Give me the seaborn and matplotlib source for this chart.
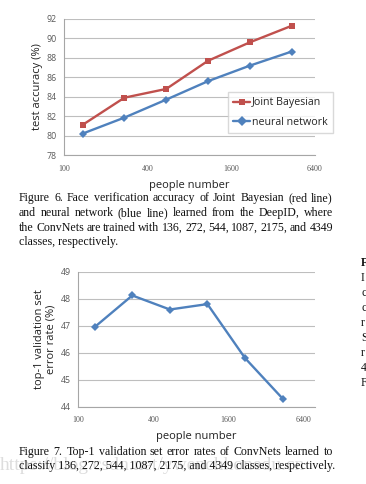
import matplotlib
matplotlib.use("Agg")
import matplotlib.pyplot as plt
import matplotlib.ticker as mticker
import seaborn as sns
import pandas as pd

people = [136, 272, 544, 1087, 2175, 4349]
joint_bayesian = [81.1, 83.9, 84.8, 87.7, 89.6, 91.3]
neural_network = [80.2, 81.85, 83.7, 85.6, 87.2, 88.65]
top1_error = [46.95, 48.12, 47.6, 47.8, 45.8, 44.3]
x_ticks = [100, 400, 1600, 6400]

red = "#C0504D"
blue = "#4F81BD"

sns.set_style("white")
plt.rcParams["font.family"] = ["Open Sans", "DejaVu Sans"]

df1 = pd.DataFrame({"people": people * 2,
                    "acc": joint_bayesian + neural_network,
                    "method": ["Joint Bayesian"] * 6 + ["neural network"] * 6})
df2 = pd.DataFrame({"people": people, "err": top1_error})

fig = plt.figure(figsize=(3.66, 4.84), dpi=100)
W, H = 366, 484


def style_axes(ax, ymin, ymax, xmax):
    ax.set_xscale("log")
    ax.set_xlim(100, xmax)
    ax.set_ylim(ymin, ymax)
    ax.xaxis.set_major_locator(mticker.FixedLocator(x_ticks))
    ax.xaxis.set_major_formatter(mticker.FixedFormatter([str(t) for t in x_ticks]))
    ax.xaxis.set_minor_locator(mticker.NullLocator())
    ax.grid(axis="y", color="#BEBEBE", linewidth=0.8)
    ax.set_axisbelow(True)
    for s in ["top", "right"]:
        ax.spines[s].set_visible(False)
    for s in ["left", "bottom"]:
        ax.spines[s].set_color("#A6A6A6")
        ax.spines[s].set_linewidth(0.8)
    ax.tick_params(axis="y", labelsize=6.3, colors="#595959", length=3,
                   width=0.8, direction="out", pad=2)
    ax.tick_params(axis="x", labelsize=5.8, colors="#595959", length=3,
                   width=0.8, direction="out", pad=4)
    for lab in ax.get_xticklabels():
        lab.set_family(["Liberation Serif"])


# Figure 6
ax1 = fig.add_axes([64 / W, 1 - 155 / H, 251 / W, 136 / H])
sns.lineplot(data=df1, x="people", y="acc", hue="method", style="method",
             palette=[red, blue], markers=["s", "D"], dashes=False,
             markersize=5, linewidth=1.7, markeredgewidth=0, ax=ax1)
ax1.lines[1].set_markersize(4)
style_axes(ax1, 78, 92, 6400)
ax1.yaxis.set_major_locator(mticker.MultipleLocator(2))
ax1.set_xlabel("people number", fontsize=8, color="#222222", labelpad=5)
ax1.set_ylabel("test accuracy (%)", fontsize=8, color="#222222", labelpad=3)
h, l = ax1.get_legend_handles_labels()
ax1.legend(h, l, loc="upper left", bbox_to_anchor=(228 / W, 1 - 92 / H),
           bbox_transform=fig.transFigure, fontsize=7.7, frameon=True,
           fancybox=False, edgecolor="#D0D0D0", handlelength=1.6,
           handletextpad=0.1, borderpad=0.5, labelspacing=0.8,
           borderaxespad=0)

# Figure 7
ax2 = fig.add_axes([78 / W, 1 - 406.7 / H, 237 / W, 135 / H])
sns.lineplot(data=df2, x="people", y="err", color=blue, marker="D",
             markersize=4.5, linewidth=1.7, markeredgewidth=0, ax=ax2)
style_axes(ax2, 44, 49, 7900)
ax2.yaxis.set_major_locator(mticker.MultipleLocator(1))
ax2.set_xlabel("people number", fontsize=8, color="#222222", labelpad=5)
ax2.set_ylabel("top-1 validation set\nerror rate (%)", fontsize=8,
               color="#222222", labelpad=3, linespacing=1.1)

# captions, justified
serif = ["Liberation Serif"]
renderer = fig.canvas.get_renderer()


def caption(lines, y0, dy, x0=19, x1=333, size=8.6):
    for i, line in enumerate(lines):
        y = 1 - (y0 + i * dy) / H
        words = line.split(" ")
        last = i == len(lines) - 1
        if last:
            fig.text(x0 / W, y, line, family=serif, fontsize=size,
                     va="center", ha="left", color="#111111")
            continue
        objs = [fig.text(0, y, w, family=serif, fontsize=size, va="center",
                         ha="left", color="#111111") for w in words]
        widths = [o.get_window_extent(renderer).width for o in objs]
        gap = (x1 - x0 - sum(widths)) / (len(words) - 1)
        x = x0
        for o, w in zip(objs, widths):
            o.set_x(x / W)
            x += w + gap


caption(["Figure 6. Face verification accuracy of Joint Bayesian (red line)",
         "and neural network (blue line) learned from the DeepID, where",
         "the ConvNets are trained with 136, 272, 544, 1087, 2175, and 4349",
         "classes, respectively."], 198, 14.8)
caption(["Figure 7. Top-1 validation set error rates of ConvNets learned to",
         "classify 136, 272, 544, 1087, 2175, and 4349 classes, respectively."],
        452, 14)

# faint watermark and the cut-off right column
fig.text(0, 1 - 466 / H, "https://blog.csdn.net/ywenchhonedu.cn",
         family=serif, fontsize=14, color="#DDDDDD", va="center",
         ha="left", zorder=0)
for i, ch in enumerate(["F", "I", "c", "c", "r", "S", "r", "4", "F"]):
    fig.text(361 / W, 1 - (263 + i * 15) / H, ch, family=serif, fontsize=8.5,
             color="#111111", va="center", ha="left",
             weight="bold" if i == 0 else "normal")

fig.savefig("out.png", dpi=100)
